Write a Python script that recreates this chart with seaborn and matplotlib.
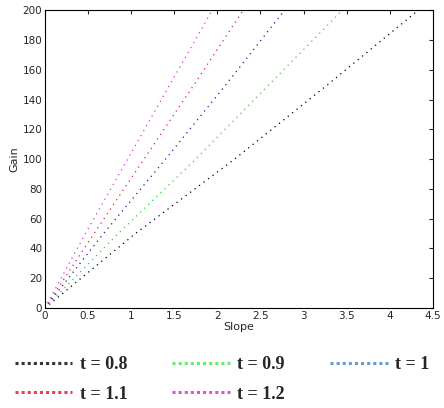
import numpy as np
import pandas as pd
import seaborn as sns
import matplotlib.pyplot as plt
from matplotlib.lines import Line2D

# gain levels and the slope at which each curve reaches them
gain = [0, 50, 100, 150, 200]
slope_08 = [0, 1.05, 2.20, 3.28, 4.33]
slope_09 = [0, 0.85, 1.75, 2.60, 3.45]
slope_10 = [0, 0.68, 1.40, 2.10, 2.78]
slope_11 = [0, 0.57, 1.15, 1.73, 2.30]
slope_12 = [0, 0.47, 0.96, 1.45, 1.94]
labels = ["t = 0.8", "t = 0.9", "t = 1", "t = 1.1", "t = 1.2"]
plot_colors = ["#000000", "#22dd22", "#1a1aa0", "#e0203a", "#e030e0"]
legend_colors = ["#333333", "#66ee66", "#6f97d8", "#e84050", "#e050e0"]

frames = []
for lab, sl in zip(labels, [slope_08, slope_09, slope_10, slope_11, slope_12]):
    frames.append(pd.DataFrame({"Slope": sl, "Gain": gain, "t": lab}))
df = pd.concat(frames, ignore_index=True)

sns.set_style("white")
plt.rcParams["font.family"] = ["DejaVu Sans"]

fig = plt.figure(figsize=(4.44, 4.08), dpi=100)
ax = fig.add_axes([0.101, 0.245, 0.874, 0.730])

for lab, col in zip(labels, plot_colors):
    sub = df[df["t"] == lab]
    sns.lineplot(data=sub, x="Slope", y="Gain", color=col, ax=ax, sort=False,
                 linewidth=0.9, linestyle=(0, (1, 3.5)), legend=False)

ax.set_xlim(0, 4.5)
ax.set_ylim(0, 200)
ax.set_xticks(np.arange(0, 4.51, 0.5))
ax.set_xticklabels(["0", "0.5", "1", "1.5", "2", "2.5", "3", "3.5", "4", "4.5"])
ax.set_yticks(np.arange(0, 201, 20))
ax.tick_params(direction="in", length=3, width=0.8, labelsize=7.5, top=True, right=True,
               pad=2)
for s in ax.spines.values():
    s.set_linewidth(0.8)
    s.set_color("black")
ax.set_xlabel("Slope", fontsize=8, labelpad=1)
ax.set_ylabel("Gain", fontsize=8, labelpad=2)

handles = [Line2D([], [], color=c, linewidth=2.2, linestyle=(0, (1, 1)))
           for c in legend_colors]
order = [0, 3, 1, 4, 2]
fig.legend([handles[i] for i in order], [labels[i] for i in order],
           loc="lower center", bbox_to_anchor=(0.5, -0.027), ncol=3, frameon=False,
           prop={"family": "Liberation Serif", "size": 13, "weight": "bold"},
           handlelength=3.2, handletextpad=0.4, columnspacing=2.5,
           labelspacing=0.7)

fig.savefig("out.png", dpi=100)
